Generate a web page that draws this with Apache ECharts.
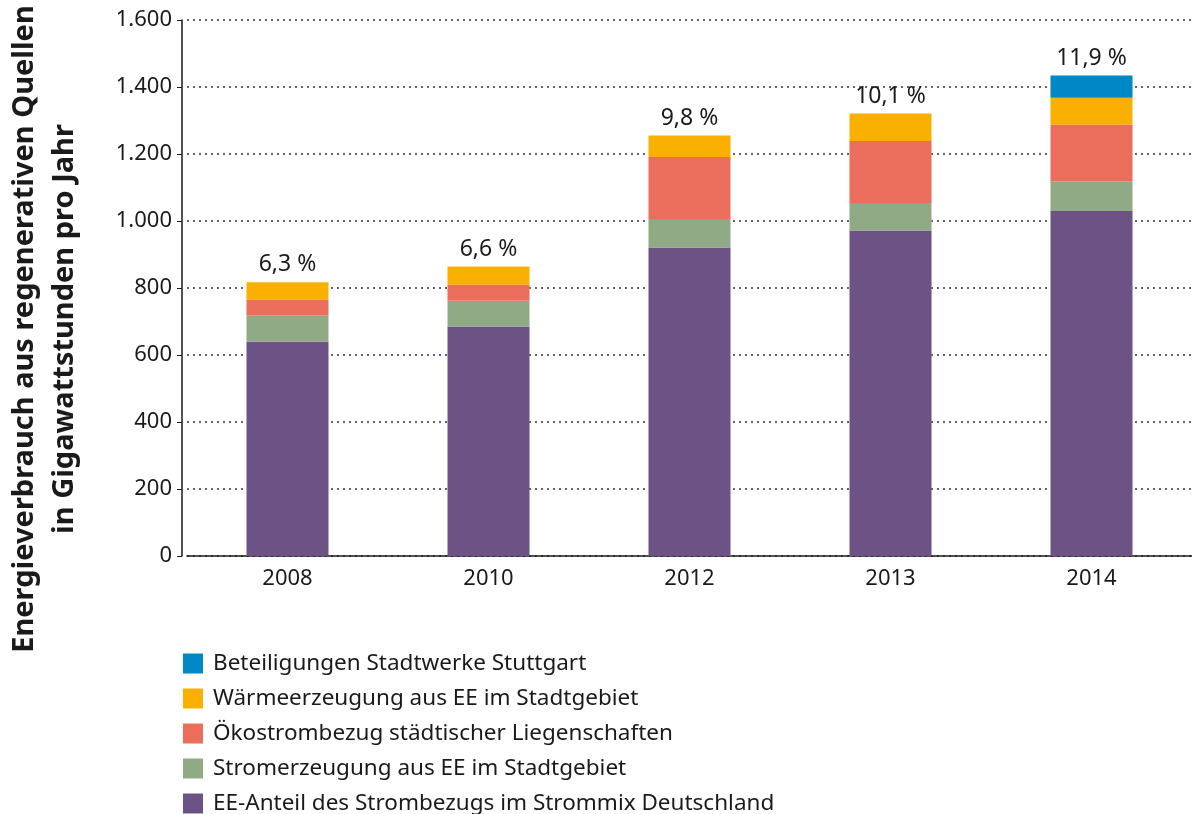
<!DOCTYPE html>
<html>
<head>
<meta charset="utf-8">
<script src="https://cdn.jsdelivr.net/npm/echarts@6/dist/echarts.min.js"></script>
<style>
  html, body { margin: 0; padding: 0; background: #ffffff; }
  #DataChart { width: 1192px; height: 814px; }
</style>
</head>
<body>
<div id="DataChart"></div>
<script>
// Daten
var jahre = ['2008', '2010', '2012', '2013', '2014'];
var eeAnteil = [640, 685, 921, 972, 1030];
var stromerzeugung = [78, 77, 85, 82, 88];
var oekostrom = [47, 48, 185, 185, 169];
var waerme = [52, 54, 64, 82, 81];
var beteiligungen = [0, 0, 0, 0, 66];
var anteilLabels = ['6,3 %', '6,6 %', '9,8 %', '10,1 %', '11,9 %'];
var yTicks = [0, 200, 400, 600, 800, 1000, 1200, 1400, 1600];

var fontName = 'Noto Sans';

var myChart = echarts.init(document.getElementById('DataChart'));

function stackSeries(name, data, color) {
    return {
        name: name,
        type: 'bar',
        stack: 'gesamt',
        barWidth: 82,
        itemStyle: { color: color },
        data: data
    };
}

var option = {
    animation: false,
    textStyle: { fontFamily: fontName },
    grid: { left: 187, top: 20, right: 0, bottom: 258 },
    legend: {
        orient: 'vertical',
        left: 183,
        top: 652,
        height: 170,
        padding: 0,
        itemWidth: 20,
        itemHeight: 20,
        itemGap: 12,
        icon: 'rect',
        textStyle: { fontSize: 22.5, color: '#1a1a1a', fontFamily: fontName, padding: [0, 0, 0, 5] },
        data: [
            'Beteiligungen Stadtwerke Stuttgart',
            'Wärmeerzeugung aus EE im Stadtgebiet',
            'Ökostrombezug städtischer Liegenschaften',
            'Stromerzeugung aus EE im Stadtgebiet',
            'EE-Anteil des Strombezugs im Strommix Deutschland'
        ]
    },
    graphic: [{
        type: 'text',
        rotation: Math.PI / 2,
        x: 45,
        y: 329,
        style: {
            text: 'Energieverbrauch aus regenerativen Quellen\nin Gigawattstunden pro Jahr',
            font: 'bold 29px ' + fontName,
            fill: '#1a1a1a',
            textAlign: 'center',
            textVerticalAlign: 'middle',
            lineHeight: 40
        }
    }],
    xAxis: {
        type: 'category',
        data: jahre,
        axisLine: { lineStyle: { color: '#1a1a1a', width: 1.5 } },
        axisTick: { show: false },
        axisLabel: { fontSize: 22, color: '#1a1a1a', margin: 12 }
    },
    yAxis: {
        type: 'value',
        min: yTicks[0],
        max: yTicks[yTicks.length - 1],
        interval: 200,
        offset: 5,
        axisLine: { show: true, lineStyle: { color: '#1a1a1a', width: 1.5 } },
        axisTick: { show: true, length: 5, lineStyle: { color: '#1a1a1a' } },
        axisLabel: {
            fontSize: 22,
            color: '#1a1a1a',
            margin: 10,
            formatter: function (v) {
                return String(v).replace(/\B(?=(\d{3})+(?!\d))/g, '.');
            }
        },
        splitLine: { lineStyle: { color: '#333333', type: [2, 4], width: 1.5 } }
    },
    series: [
        stackSeries('EE-Anteil des Strombezugs im Strommix Deutschland', eeAnteil, '#6d5286'),
        stackSeries('Stromerzeugung aus EE im Stadtgebiet', stromerzeugung, '#8faa85'),
        stackSeries('Ökostrombezug städtischer Liegenschaften', oekostrom, '#eb6d5c'),
        stackSeries('Wärmeerzeugung aus EE im Stadtgebiet', waerme, '#f9b000'),
        stackSeries('Beteiligungen Stadtwerke Stuttgart', beteiligungen, '#0088c6'),
        {
            name: 'Anteil',
            type: 'bar',
            stack: 'gesamt',
            barWidth: 82,
            silent: true,
            itemStyle: { color: 'transparent' },
            label: {
                show: true,
                position: 'top',
                distance: 6,
                fontSize: 23,
                color: '#1a1a1a',
                formatter: function (p) { return anteilLabels[p.dataIndex]; }
            },
            data: [0, 0, 0, 0, 0]
        }
    ]
};

myChart.setOption(option);
</script>
</body>
</html>
